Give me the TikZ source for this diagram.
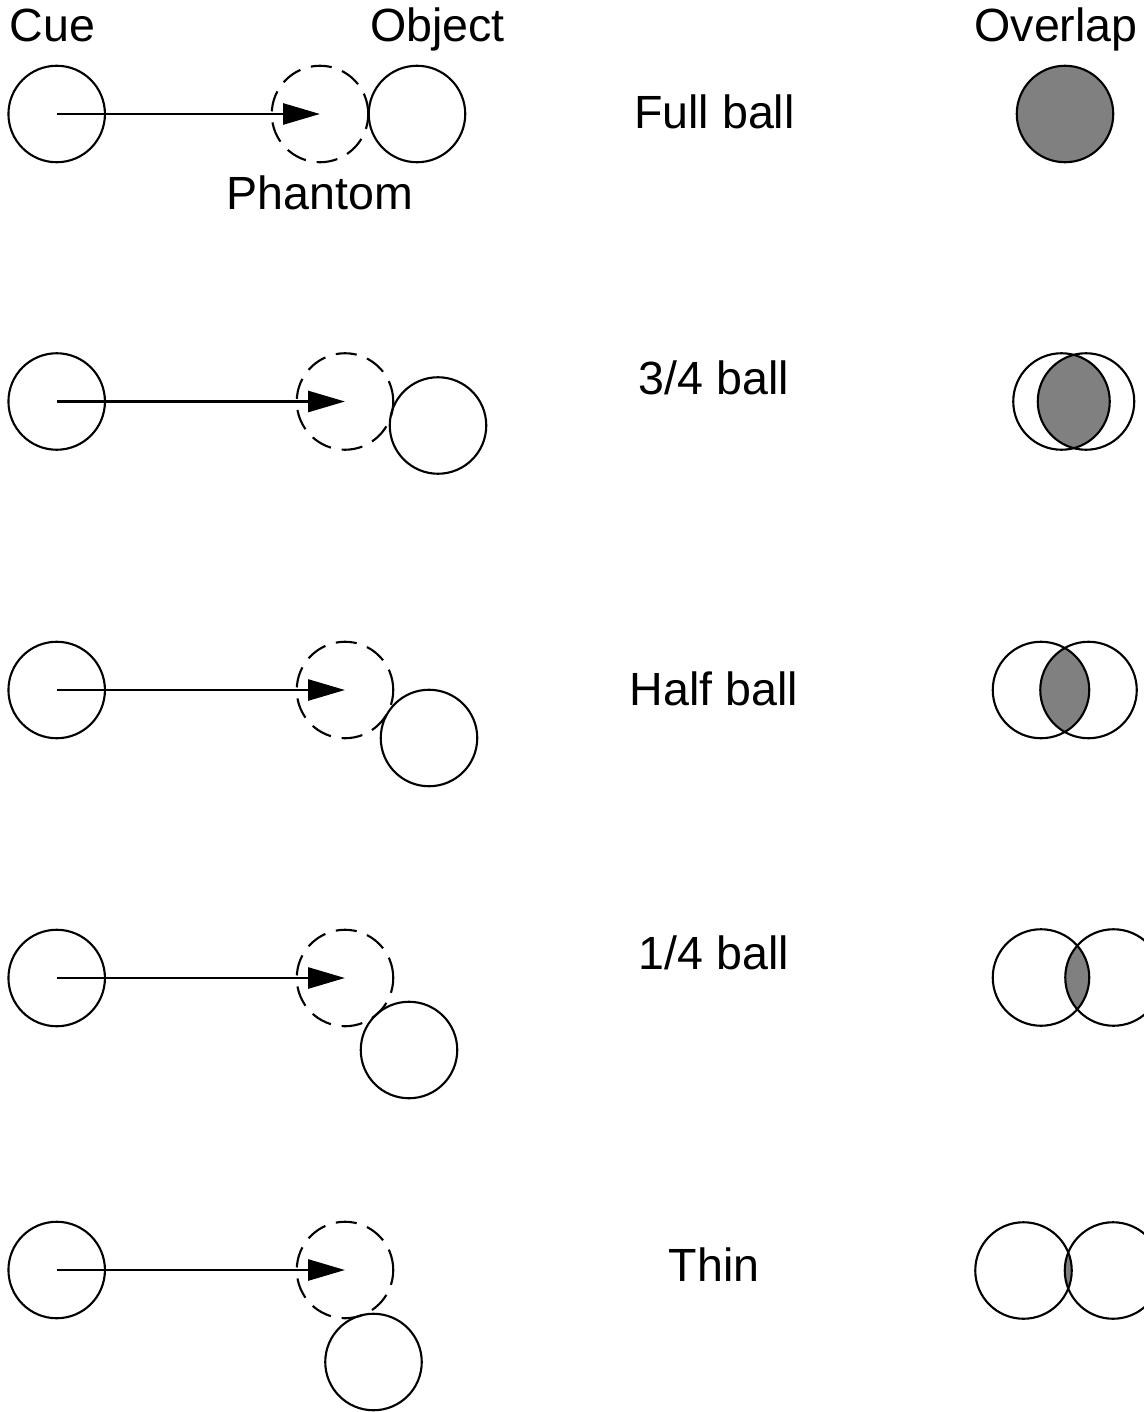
\documentclass[tikz,border=0pt]{standalone}
\usepackage{fontspec}
\setmainfont{Liberation Sans}
\usetikzlibrary{arrows.meta,backgrounds}

\tikzset{
    ball/.style={circle, draw, line width=1.2pt, minimum size=1.93cm, inner sep=0pt},
    ghostball/.style={ball, dash pattern=on 0.42cm off 0.22cm},
    shot/.style={line width=1.6pt, -{Triangle[length=0.74cm,width=0.42cm]}},
    lbl/.style={anchor=base, inner sep=0pt, font=\fontsize{26.5}{30}\selectfont},
}

\begin{document}
\begin{tikzpicture}[scale=1]
        \useasboundingbox (0, 0) rectangle (22.86, -28.24);

        % headings
        \node[lbl] (cuehead) at (1.05, -0.84) {Cue};
        \node[lbl] (objhead) at (8.75, -0.84) {Object};
        \node[lbl] (ovlhead) at (21.12, -0.84) {Overlap};

        % full ball
        \node[ball] (cue1) at (1.134, -2.28) {};
        \node[ghostball] (ghost1) at (6.40, -2.28) {};
        \node[ball] (obj1) at (8.34, -2.28) {};
        \draw[shot] (cue1.center) -- (ghost1.center);
        \node[lbl] (ghosthead) at (6.40, -4.20) {Phantom};
        \node[lbl] (name1) at (14.29, -2.57) {Full ball};
        \node[ball, fill=gray] (ovl1) at (21.30, -2.28) {};

        % 3/4 ball
        \node[ball] (cue2) at (1.134, -8.03) {};
        \node[ghostball] (ghost2) at (6.90, -8.03) {};
        \node[ball] (obj2) at (8.76, -8.51) {};
        \draw[shot] (cue2.center) -- (ghost2.center);
        \node[lbl] (name2) at (14.28, -7.89) {3/4 ball};
        \node[ball] (ovlL2) at (21.23, -8.03) {};
        \node[ball] (ovlR2) at (21.72, -8.03) {};
        \begin{scope}[on background layer]
            \begin{scope}
                \clip (ovlL2.center) circle (0.965);
                \fill[gray] (ovlR2.center) circle (0.965);
            \end{scope}
        \end{scope}

        % half ball
        \node[ball] (cue3) at (1.134, -13.80) {};
        \node[ghostball] (ghost3) at (6.90, -13.80) {};
        \node[ball] (obj3) at (8.58, -14.76) {};
        \draw[shot] (cue3.center) -- (ghost3.center);
        \node[lbl] (name3) at (14.28, -14.11) {Half ball};
        \node[ball] (ovlL3) at (20.82, -13.80) {};
        \node[ball] (ovlR3) at (21.77, -13.80) {};
        \begin{scope}[on background layer]
            \begin{scope}
                \clip (ovlL3.center) circle (0.965);
                \fill[gray] (ovlR3.center) circle (0.965);
            \end{scope}
        \end{scope}

        % 1/4 ball
        \node[ball] (cue4) at (1.134, -19.56) {};
        \node[ghostball] (ghost4) at (6.90, -19.56) {};
        \node[ball] (obj4) at (8.18, -21.00) {};
        \draw[shot] (cue4.center) -- (ghost4.center);
        \node[lbl] (name4) at (14.28, -19.39) {1/4 ball};
        \node[ball] (ovlL4) at (20.82, -19.55) {};
        \node[ball] (ovlR4) at (22.27, -19.55) {};
        \begin{scope}[on background layer]
            \begin{scope}
                \clip (ovlL4.center) circle (0.965);
                \fill[gray] (ovlR4.center) circle (0.965);
            \end{scope}
        \end{scope}

        % thin
        \node[ball] (cue5) at (1.134, -25.40) {};
        \node[ghostball] (ghost5) at (6.90, -25.40) {};
        \node[ball] (obj5) at (7.47, -27.24) {};
        \draw[shot] (cue5.center) -- (ghost5.center);
        \node[lbl] (name5) at (14.28, -25.63) {Thin};
        \node[ball] (ovlL5) at (20.47, -25.41) {};
        \node[ball] (ovlR5) at (22.26, -25.41) {};
        \begin{scope}[on background layer]
            \begin{scope}
                \clip (ovlL5.center) circle (0.965);
                \fill[gray] (ovlR5.center) circle (0.965);
            \end{scope}
        \end{scope}
    \end{tikzpicture}
\end{document}
